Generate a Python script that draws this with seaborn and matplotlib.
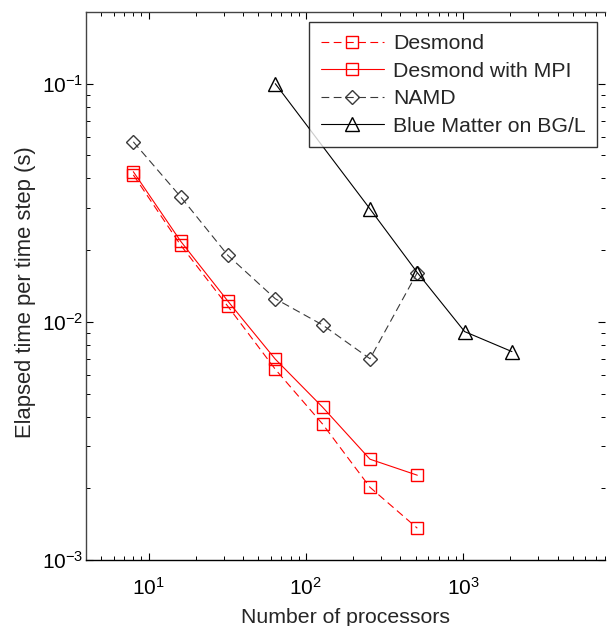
import matplotlib
matplotlib.use("Agg")
import matplotlib.pyplot as plt
import seaborn as sns
import numpy as np
from matplotlib.ticker import LogLocator, NullFormatter

# Processor counts and elapsed time per time step (s)
procs_desmond = [8, 16, 32, 64, 128, 256, 512]
desmond = [0.0414, 0.0210, 0.0116, 0.00632, 0.00372, 0.00202, 0.00136]
desmond_mpi = [0.0427, 0.0218, 0.0122, 0.00697, 0.00438, 0.00265, 0.00227]

procs_namd = [8, 16, 32, 64, 128, 256, 512]
namd = [0.057, 0.0335, 0.019, 0.0125, 0.0097, 0.0070, 0.0161]

procs_bluematter = [64, 256, 512, 1024, 2048]
bluematter = [0.100, 0.0298, 0.0161, 0.0091, 0.0075]

series_labels = ["Desmond", "Desmond with MPI", "NAMD", "Blue Matter on BG/L"]

sns.set_style("ticks")
plt.rcParams["font.family"] = ["Liberation Sans", "DejaVu Sans"]
plt.rcParams["mathtext.fontset"] = "custom"
plt.rcParams["mathtext.rm"] = "Liberation Sans"
plt.rcParams["mathtext.it"] = "Liberation Sans:italic"
plt.rcParams["axes.unicode_minus"] = False

fig = plt.figure(figsize=(6.07, 6.26), dpi=100)
ax = fig.add_axes([86 / 607, 1 - 560 / 626, (605 - 86) / 607, (560 - 12) / 626])

red = "#ff0000"
common = dict(ax=ax, markersize=8, markerfacecolor="none", linewidth=0.8,
              markeredgewidth=1.0)

sns.lineplot(x=procs_desmond, y=desmond, color=red, marker="s",
             linestyle=(0, (7, 4)), markeredgecolor=red, label=series_labels[0],
             **common)
sns.lineplot(x=procs_desmond, y=desmond_mpi, color=red, marker="s",
             linestyle="-", markeredgecolor=red, label=series_labels[1], **common)
sns.lineplot(x=procs_namd, y=namd, color="#3a3a3a", marker="D",
             linestyle=(0, (7, 4)), markeredgecolor="#3a3a3a",
             label=series_labels[2], **{**common, "markersize": 7.5})
sns.lineplot(x=procs_bluematter, y=bluematter, color="black", marker="^",
             linestyle="-", markeredgecolor="black", label=series_labels[3],
             **{**common, "markersize": 10})

ax.set_xscale("log")
ax.set_yscale("log")
ax.set_xlim(4, 8000)
ax.set_ylim(1e-3, 0.2)

ax.xaxis.set_major_locator(LogLocator(base=10, numticks=10))
ax.yaxis.set_major_locator(LogLocator(base=10, numticks=10))
ax.xaxis.set_minor_locator(LogLocator(base=10, subs=np.arange(2, 10), numticks=20))
ax.yaxis.set_minor_locator(LogLocator(base=10, subs=np.arange(2, 10), numticks=20))
ax.xaxis.set_minor_formatter(NullFormatter())
ax.yaxis.set_minor_formatter(NullFormatter())

ax.tick_params(which="both", direction="in", top=True, right=True,
               labelsize=15, colors="black")
ax.tick_params(which="major", length=5, width=0.8)
ax.tick_params(axis="x", which="major", pad=12)
ax.tick_params(axis="y", which="major", pad=2)
ax.tick_params(which="minor", length=3, width=0.7)

for side in ["left", "top"]:
    ax.spines[side].set_color("#444444")
ax.spines["bottom"].set_color("black")
ax.spines["right"].set_visible(False)
for s in ax.spines.values():
    s.set_linewidth(1.0)

ax.set_xlabel("Number of processors", fontsize=15.3, labelpad=7)
ax.set_ylabel("Elapsed time per time step (s)", fontsize=15.8)
ax.yaxis.set_label_coords(-0.097, 0.489)

leg = ax.legend(loc="upper right", bbox_to_anchor=(0.985, 0.981), fontsize=15.3,
                frameon=True, fancybox=False, edgecolor="black",
                handlelength=3.0, handletextpad=0.4, labelspacing=0.4,
                borderpad=0.55, borderaxespad=0)
leg.get_frame().set_linewidth(1.0)

fig.savefig("out.png", dpi=100)
